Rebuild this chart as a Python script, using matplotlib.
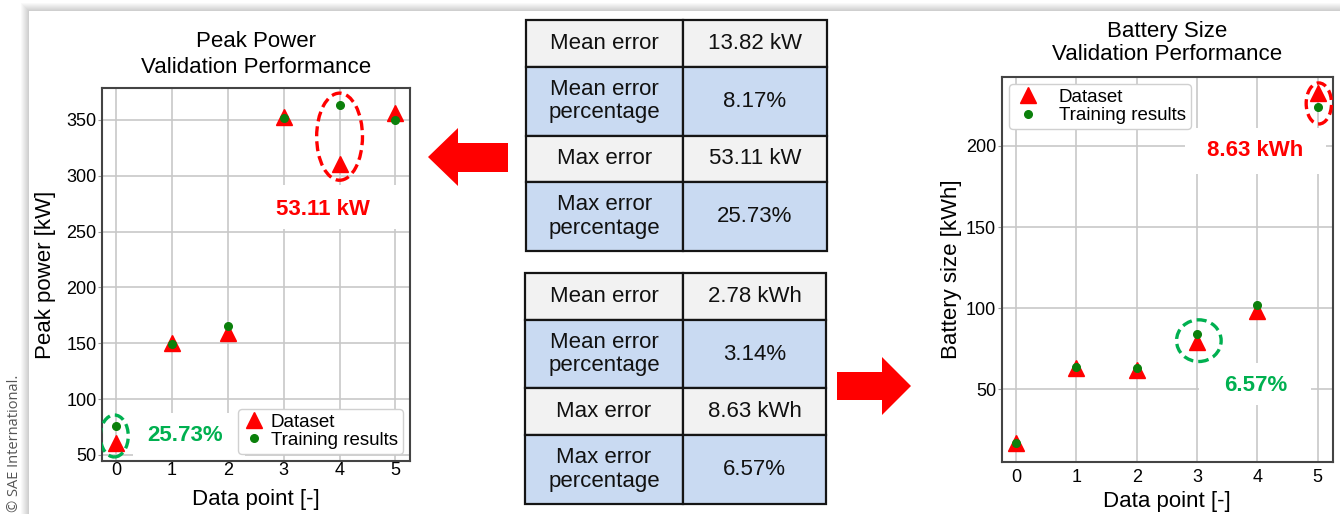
import numpy as np
import matplotlib
matplotlib.use('Agg')
import matplotlib.pyplot as plt
from matplotlib.patches import Ellipse, Rectangle, Polygon

plt.rcParams['font.family'] = ['Liberation Sans', 'DejaVu Sans']

# data
points = [0, 1, 2, 3, 4, 5]
pp_dataset = [60.5, 150, 159, 353, 310.5, 356]
pp_training = [76.1, 149, 165.5, 352, 363.6, 349.5]
bs_dataset = [17, 63, 62, 79, 98.5, 232.5]
bs_training = [17, 64, 63, 84.2, 102, 223.9]

pp_ticks = [50, 100, 150, 200, 250, 300, 350]
bs_ticks = [50, 100, 150, 200]

metric_names = ['Mean error', 'Mean error\npercentage', 'Max error', 'Max error\npercentage']
pp_values = ['13.82 kW', '8.17%', '53.11 kW', '25.73%']
bs_values = ['2.78 kWh', '3.14%', '8.63 kWh', '6.57%']

RED = '#ff0000'
GREEN_TXT = '#00b050'
DOT = '#0b800b'

fig = plt.figure(figsize=(13.4, 5.14), dpi=100)
fig.patch.set_facecolor('white')

# background layer in pixel coordinates
bg = fig.add_axes([0, 0, 1, 1])
bg.set_xlim(0, 1340)
bg.set_ylim(514, 0)
bg.axis('off')
for i in range(9):
    bg.add_patch(Rectangle((29 - i, 11 - i), 1400, 600, facecolor='#000000',
                           alpha=0.022, edgecolor='none'))
bg.add_patch(Rectangle((29, 11), 1400, 600, facecolor='white', edgecolor='none'))
bg.text(15, 512, '\u00a9 SAE International.', rotation=90, ha='center', va='bottom',
        fontsize=10.5, family=['Open Sans', 'DejaVu Sans'], color='#555555')


def draw_table(y_edges, x0, xm, x1, names, values):
    fills = ['#f2f2f2', '#c9daf2', '#f2f2f2', '#c9daf2']
    for k in range(len(names)):
        top, bot = y_edges[k], y_edges[k + 1]
        for (a, b) in [(x0, xm), (xm, x1)]:
            bg.add_patch(Rectangle((a, top), b - a, bot - top, facecolor=fills[k],
                                   edgecolor='#151515', lw=1.6))
        cy = (top + bot) / 2
        bg.text((x0 + xm) / 2, cy, names[k], ha='center', va='center',
                fontsize=16, linespacing=1.15, color='#111111')
        bg.text((xm + x1) / 2, cy, values[k], ha='center', va='center',
                fontsize=16, color='#111111')


draw_table([20, 66.7, 135.7, 182.3, 251], 526, 683, 827, metric_names, pp_values)
draw_table([273.3, 320, 388.3, 435, 504], 525, 683, 826, metric_names, bs_values)

# arrows
bg.add_patch(Polygon([(428, 157), (458, 128), (458, 143), (508, 143), (508, 172),
                      (458, 172), (458, 186)], closed=True, facecolor=RED, edgecolor='none'))
bg.add_patch(Polygon([(837, 372), (882, 372), (882, 357), (911, 386), (882, 415),
                      (882, 400), (837, 400)], closed=True, facecolor=RED, edgecolor='none'))


def style_axes(ax, ticks, xpad, xlabelpad):
    ax.set_xticks(points)
    ax.set_yticks(ticks)
    ax.grid(True, color='#c8c8c8', lw=1.2)
    ax.set_axisbelow(True)
    for s in ax.spines.values():
        s.set_color('#444444')
        s.set_linewidth(1.5)
    ax.tick_params(axis='y', length=3, pad=1, labelsize=13, color='#999999')
    ax.tick_params(axis='x', length=0, pad=xpad, labelsize=13)
    ax.set_xlabel('Data point [-]', fontsize=16, labelpad=xlabelpad)


# peak power chart
ax1 = fig.add_axes([102 / 1340, (514 - 461) / 514, 308 / 1340, 373 / 514])
ax1.plot(points, pp_dataset, '^', color=RED, ms=11, label='Dataset', zorder=3)
ax1.plot(points, pp_training, 'o', color=DOT, ms=5.5, label='Training results', zorder=4)
ax1.set_xlim(-0.25, 5.26)
ax1.set_ylim(44.6, 378.6)
style_axes(ax1, pp_ticks, 1, 7)
ax1.set_ylabel('Peak power [kW]', fontsize=16, labelpad=7)
ax1.set_title('Peak Power\nValidation Performance', fontsize=16, pad=11, linespacing=1.3)
ax1.add_patch(Rectangle((2.67, 252), 2.5, 40, facecolor='white', edgecolor='none', zorder=1.5))
ax1.add_patch(Rectangle((0.3, 44.6), 2.0, 43, facecolor='white', edgecolor='none', zorder=1.5))
ax1.add_patch(Ellipse((4, 335), 0.82, 78, fill=False, edgecolor=RED, lw=2.4,
                      linestyle=(0, (3, 1.5)), zorder=5))
ax1.add_patch(Ellipse((-0.03, 67), 0.5, 37.6, fill=False, edgecolor=GREEN_TXT, lw=2.4,
                      linestyle=(0, (3, 1.5)), zorder=5))
ax1.text(3.7, 270, '53.11 kW', color=RED, fontsize=16, fontweight='bold',
         ha='center', va='center', zorder=6)
ax1.text(1.23, 67, '25.73%', color=GREEN_TXT, fontsize=16, fontweight='bold',
         ha='center', va='center', zorder=6)
ax1.legend(loc='lower right', fontsize=13.5, handlelength=1.2, handletextpad=0.3,
           labelspacing=0.05, borderpad=0.25, borderaxespad=0.4, framealpha=1,
           edgecolor='#d0d0d0')

# battery size chart
ax2 = fig.add_axes([1001.7 / 1340, (514 - 461.7) / 514, 331 / 1340, 385 / 514])
ax2.plot(points, bs_dataset, '^', color=RED, ms=11, label='Dataset', zorder=3)
ax2.plot(points, bs_training, 'o', color=DOT, ms=5.5, label='Training results', zorder=4)
ax2.set_xlim(-0.24, 5.25)
ax2.set_ylim(5.4, 242.7)
style_axes(ax2, bs_ticks, 5, 3.5)
ax2.set_ylabel('Battery size [kWh]', fontsize=16, labelpad=3)
ax2.set_title('Battery Size\nValidation Performance', fontsize=16, pad=12, linespacing=1.1)
ax2.add_patch(Rectangle((2.80, 182.7), 2.34, 28.4, facecolor='white', edgecolor='none', zorder=1.5))
ax2.add_patch(Rectangle((3.03, 40.3), 1.86, 25.9, facecolor='white', edgecolor='none', zorder=1.5))
ax2.add_patch(Ellipse((5.02, 226.2), 0.42, 25.3, fill=False, edgecolor=RED, lw=2.4,
                      linestyle=(0, (3, 1.5)), zorder=5))
ax2.add_patch(Ellipse((3.03, 80), 0.74, 25.7, fill=False, edgecolor=GREEN_TXT, lw=2.4,
                      linestyle=(0, (3, 1.5)), zorder=5))
ax2.text(3.96, 197, '8.63 kWh', color=RED, fontsize=16, fontweight='bold',
         ha='center', va='center', zorder=6)
ax2.text(3.97, 52.5, '6.57%', color=GREEN_TXT, fontsize=16, fontweight='bold',
         ha='center', va='center', zorder=6)
ax2.legend(loc='upper left', fontsize=13.5, handlelength=1.5, handletextpad=0.9,
           labelspacing=0.05, borderpad=0.25, borderaxespad=0.4, framealpha=1,
           edgecolor='#d0d0d0')

fig.savefig('out.png', dpi=100)
